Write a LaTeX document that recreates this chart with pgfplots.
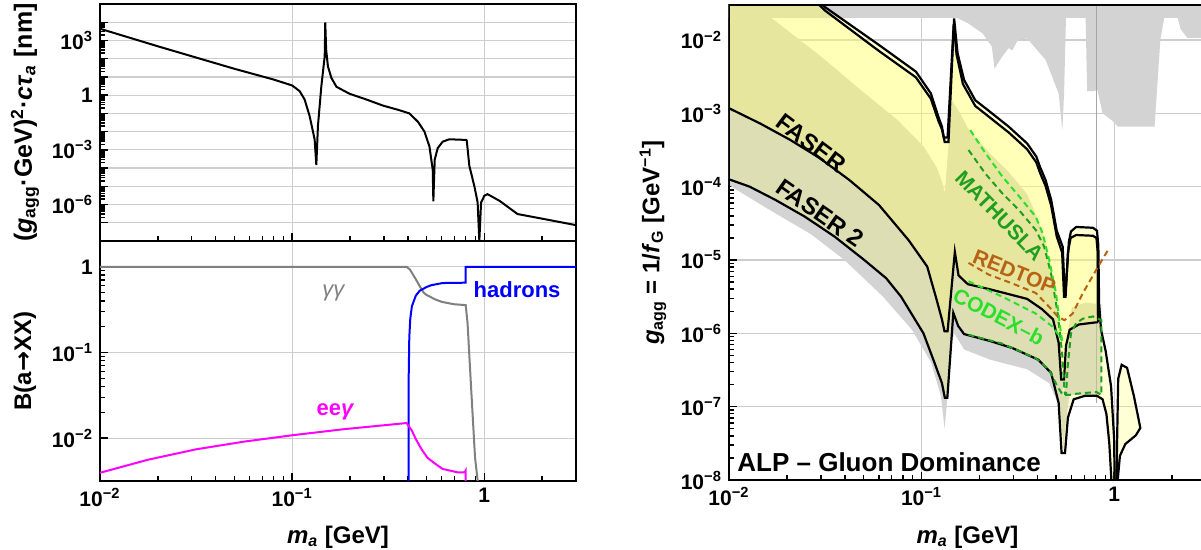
\documentclass[border=0pt]{standalone}
\usepackage{fontspec}
\setmainfont{Liberation Sans}
\newfontfamily\djv{DejaVu Sans}
\usepackage{pgfplots}
\pgfplotsset{compat=1.18}

\definecolor{gridc}{RGB}{205,205,205}
\definecolor{grayfill}{RGB}{211,211,211}
\definecolor{yel}{rgb}{1,1,0.4}
\definecolor{mgreen}{RGB}{30,160,30}
\definecolor{cgreen}{RGB}{40,225,40}
\definecolor{redtop}{RGB}{184,98,20}
\definecolor{mag}{RGB}{255,0,255}

\newcommand{\sq}[1]{10\textsuperscript{−#1}}
\newcommand{\fsz}[1]{\fontsize{#1}{#1}\selectfont}

\pgfplotsset{
  every axis/.append style={
    scale only axis,
    xmin=0.01, xmax=3,
    axis line style={line width=1.3pt},
    tick style={line width=0.7pt, black},
    tick align=inside,
    xtick pos=left, ytick pos=left,
    major tick length=4pt, minor tick length=2.5pt,
    tick label style={font=\bfseries\fsz{10.5}},
    label style={font=\bfseries\fsz{12}},
    grid=major,
    major grid style={gridc, line width=0.6pt},
    xtick={0.01,0.1,1},
    minor xtick={0.02,0.03,0.04,0.05,0.06,0.07,0.08,0.09,0.2,0.3,0.4,0.5,0.6,0.7,0.8,0.9,2,3},
  }
}

\begin{document}
\begin{tikzpicture}

% ---------------- top left: lifetime ----------------
\begin{loglogaxis}[at={(50pt,154.5pt)}, anchor=south west, width=238pt, height=118.5pt,
  ymin=1e-8, ymax=1e5,
  ytick={1e-7,1e-6,1e-5,1e-4,1e-3,1e-2,1e-1,1,10,100,1e3,1e4},
  yticklabels={,\sq{6},,,\sq{3},,,1,,,10\textsuperscript{3},},
  xticklabels={,,},
  ylabel={(\textit{g}\textsubscript{agg}·GeV)\textsuperscript{2}·\textit{cτ}\textsubscript{\textit{a}} [nm]},
  ylabel style={at={(axis description cs:-0.1576,0.5)}, anchor=center, font=\bfseries\fsz{12.5}},
]
\addplot[black, line width=1pt] coordinates {
(0.01,4400) (0.02,479) (0.05,28) (0.08,7.2) (0.1,3.4) (0.1094,1.66) (0.1161,0.58)
(0.1233,0.0708) (0.1309,0.0038) (0.1336,1.48e-4) (0.1362,0.0204) (0.1419,3.1)
(0.1477,135) (0.1487,9770) (0.1503,316) (0.1535,38) (0.16,8.9) (0.17,2.88)
(0.199,1.19) (0.243,0.58) (0.296,0.27) (0.361,0.15) (0.407,0.1) (0.451,0.035)
(0.488,0.01) (0.518,1.55e-3) (0.539,8.1e-5) (0.543,1.5e-6) (0.552,2.9e-4)
(0.572,1.23e-3) (0.607,2.8e-3) (0.657,3.8e-3) (0.803,3.5e-3) (0.81,3.3e-3)
(0.836,1.3e-4) (0.887,1.05e-5) (0.923,1.3e-6) (0.942,1e-8) (0.962,1.3e-6)
(1.0,3e-6) (1.04,3.7e-6) (1.2,1.6e-6) (1.49,3e-7) (1.93,1.8e-7) (3.0,7.4e-8)
};
\end{loglogaxis}

% ---------------- bottom left: branching ratios ----------------
\begin{loglogaxis}[at={(50pt,34.5pt)}, anchor=south west, width=238pt, height=120pt,
  ymin=0.00316, ymax=2,
  ytick={0.01,0.1,1},
  yticklabels={\sq{2},\sq{1},1},
  xticklabels={\sq{2},\sq{1},1},
  ylabel={B(a{\djv\bfseries →}XX)},
  ylabel style={at={(axis description cs:-0.1576,0.5)}, anchor=center},
  xlabel={\textit{m}\textsubscript{\textit{a}} [GeV]},
  xlabel style={at={(axis description cs:0.5,-0.233)}, anchor=center},
]
\addplot[gray, line width=1pt] coordinates {
(0.01,1) (0.394,1) (0.41,0.93) (0.42,0.85) (0.44,0.716) (0.46,0.6) (0.483,0.5)
(0.5,0.47) (0.554,0.417) (0.6,0.39) (0.666,0.372) (0.7,0.365) (0.8,0.357)
(0.818,0.221) (0.855,0.0363) (0.895,0.0059) (0.935,0.0025)
};
\addplot[blue, line width=1pt] coordinates {
(0.403,0.002) (0.404,0.05) (0.407,0.15) (0.412,0.25) (0.42,0.347) (0.44,0.46)
(0.461,0.525) (0.5,0.58) (0.53,0.61) (0.607,0.646) (0.8,0.652) (0.8,1) (3.1,1)
};
\addplot[mag, line width=1pt] coordinates {
(0.01,3.94e-3) (0.0178,5.6e-3) (0.0316,7.4e-3) (0.0562,9.1e-3) (0.1,0.0108)
(0.185,0.0127) (0.394,0.0150) (0.42,0.0122) (0.44,0.00977) (0.47,0.0075)
(0.506,0.0059) (0.55,0.0051) (0.607,0.00437) (0.73,0.00398) (0.79,0.0040)
(0.8,0.0042) (0.8,0.002)
};
\node[text=gray, font=\itshape\fsz{11}] at (axis cs:0.164,0.5) {γγ};
\node[text=mag, font=\bfseries\fsz{11}] at (axis cs:0.168,0.0203) {ee\textit{γ}};
\node[text=blue, font=\bfseries\fsz{11}] at (axis cs:1.48,0.546) {hadrons};
\end{loglogaxis}

% ---------------- right: sensitivity ----------------
\begin{loglogaxis}[at={(364.5pt,35pt)}, anchor=south west, width=238.5pt, height=237.5pt,
  ymin=1e-8, ymax=0.03,
  ytick={1e-8,1e-7,1e-6,1e-5,1e-4,1e-3,1e-2},
  yticklabels={\sq{8},\sq{7},\sq{6},\sq{5},\sq{4},\sq{3},\sq{2}},
  xticklabels={\sq{2},\sq{1},1},
  minor ytick={2e-8,3e-8,4e-8,5e-8,6e-8,7e-8,8e-8,9e-8,
               2e-7,3e-7,4e-7,5e-7,6e-7,7e-7,8e-7,9e-7,
               2e-6,3e-6,4e-6,5e-6,6e-6,7e-6,8e-6,9e-6,
               2e-5,3e-5,4e-5,5e-5,6e-5,7e-5,8e-5,9e-5,
               2e-4,3e-4,4e-4,5e-4,6e-4,7e-4,8e-4,9e-4,
               2e-3,3e-3,4e-3,5e-3,6e-3,7e-3,8e-3,9e-3,2e-2,3e-2},
  ylabel={\textit{g}\textsubscript{agg} = 1/\textit{f}\textsubscript{G} [GeV\textsuperscript{−1}]},
  ylabel style={at={(axis description cs:-0.1593,0.5)}, anchor=center},
  xlabel={\textit{m}\textsubscript{\textit{a}} [GeV]},
  xlabel style={at={(axis description cs:0.5,-0.12)}, anchor=center},
]
% existing constraints: top band
\addplot[fill=grayfill, draw=none] coordinates {
(0.0089,0.05) (0.0089,0.02) (0.1524,0.02) (0.1738,0.017) (0.2075,0.0123) (0.2317,0.00813)
(0.2393,0.00407) (0.2588,0.00562) (0.2831,0.00776) (0.2958,0.00724) (0.3162,0.01)
(0.3532,0.0105) (0.4406,0.00537) (0.5152,0.00186) (0.5383,5.89e-4) (0.5495,0.00186)
(0.5623,0.02) (0.7112,0.02) (0.7244,0.002) (0.7834,0.002) (0.8185,0.00209) (0.871,0.001)
(0.977,7.94e-4) (1.047,6.6e-4) (1.622,6.6e-4) (1.738,0.01) (1.82,0.02) (2.138,0.02)
(2.213,0.0141) (2.399,0.0107) (3.2,0.0107) (3.2,0.05)
} -- cycle;
% existing constraints: main region
\addplot[fill=grayfill, draw=none] coordinates {
(0.0089,0.05) (0.0166,0.05) (0.0166,0.02) (0.0309,0.00562) (0.0482,0.00209) (0.075,8.13e-4)
(0.1023,3.55e-4) (0.1194,1.86e-4) (0.1276,1.175e-4) (0.1321,8.32e-5) (0.1439,1.51e-3)
(0.1585,1e-3) (0.1738,6.31e-4) (0.227,2.82e-4) (0.2831,1.585e-4) (0.3532,7.94e-5)
(0.4036,3.55e-5) (0.4406,1.78e-5) (0.471,7.94e-6) (0.5012,3.16e-6) (0.5248,1e-6)
(0.537,3.16e-7) (0.547,1.26e-7) (0.5623,3.16e-7) (0.5754,1e-6) (0.6026,2.24e-6)
(0.7079,2.63e-6) (0.8222,2.51e-6) (0.859,2.51e-6) (0.859,1.445e-7) (0.5861,1.445e-7)
(0.5559,5.01e-8) (0.547,2.51e-8) (0.526,9.12e-8) (0.4603,2.09e-7) (0.3532,3.24e-7)
(0.227,4.37e-7) (0.1663,6.03e-7) (0.1479,1e-6) (0.1413,6.31e-7) (0.1349,1e-7)
(0.1318,5.01e-8) (0.1259,1.41e-7) (0.1122,3.98e-7) (0.0891,1.12e-6) (0.0631,3.16e-6)
(0.0398,1e-5) (0.0267,2.24e-5) (0.01585,5.01e-5) (0.01,1.05e-4) (0.0089,1.26e-4)
} -- cycle;
\addplot[gray!70, line width=0.8pt] coordinates {(0.81,0.03) (0.81,1.12e-7)};
% FASER 2 region
\addplot[fill=yel, fill opacity=0.27, draw=none] coordinates {
(0.0089,0.05) (0.0229,0.05) (0.0303,0.0302) (0.0601,8.55e-3) (0.0935,3.70e-3) (0.1117,1.875e-3)
(0.1222,9.02e-4) (0.1276,6.6e-4) (0.1318,4.07e-4) (0.138,4.07e-4) (0.1476,0.0197)
(0.1538,6.61e-3) (0.1663,2.85e-3) (0.19,1.51e-3) (0.227,1.047e-3) (0.2831,6.6e-4)
(0.3532,3.89e-4) (0.3945,2.57e-4) (0.4121,1.86e-4) (0.4406,1.23e-4) (0.471,6.61e-5)
(0.5035,2.51e-5) (0.5408,1.51e-5) (0.5521,4.37e-6) (0.5623,4.37e-6) (0.5821,1.78e-5)
(0.597,2.45e-5) (0.6353,2.82e-5) (0.7762,2.75e-5) (0.8147,2.51e-5) (0.8279,1.585e-5)
(0.8356,2.51e-6) (0.8551,1.12e-6) (0.9036,5.75e-7) (0.9638,1.905e-7) (1.0,3.63e-8)
(1.007,7.94e-9) (0.9727,7.94e-9) (0.944,3.16e-8) (0.912,7.94e-8) (0.871,1.26e-7)
(0.8128,1.41e-7) (0.7079,1.41e-7) (0.6166,1.26e-7) (0.5754,7.08e-8) (0.5559,2.34e-8)
(0.5333,2.34e-8) (0.5152,1.12e-7) (0.471,2.88e-7) (0.4036,4.37e-7) (0.2958,6.31e-7)
(0.227,7.85e-7) (0.1663,9.77e-7) (0.1549,1.26e-6) (0.1462,1.905e-6) (0.1361,1.32e-7)
(0.1321,1.32e-7) (0.1276,2.09e-7) (0.1167,3.98e-7) (0.1023,1e-6) (0.0783,3.16e-6)
(0.0656,5.62e-6) (0.0504,1e-5) (0.0353,2.09e-5) (0.0248,3.89e-5) (0.0174,6.61e-5)
(0.0128,1e-4) (0.01,1.26e-4) (0.0089,1.35e-4)
} -- cycle;
\addplot[fill=yel, fill opacity=0.27, draw=none] coordinates {
(1.026,7.94e-9) (1.05,2.4e-7) (1.094,3.72e-7) (1.167,3.39e-7) (1.268,1.38e-7)
(1.368,5.13e-8) (1.297,4.07e-8) (1.143,3.09e-8) (1.072,2.14e-8) (1.035,7.94e-9)
} -- cycle;
% FASER region
\addplot[fill=yel, fill opacity=0.27, draw=none] coordinates {
(0.0089,0.05) (0.024,0.05) (0.0316,0.0251) (0.0601,7.08e-3) (0.0935,3.09e-3) (0.1117,1.585e-3)
(0.1222,7.94e-4) (0.1276,6.03e-4) (0.1303,4.68e-4) (0.1365,4.68e-4) (0.1469,0.0166)
(0.152,6.31e-3) (0.164,2.51e-3) (0.19,1.26e-3) (0.227,8.71e-4) (0.2831,5.5e-4)
(0.3532,3.24e-4) (0.3945,2.14e-4) (0.4121,1.55e-4) (0.4406,1.02e-4) (0.471,5.5e-5)
(0.5035,2.09e-5) (0.537,1.26e-5) (0.5495,3.16e-6) (0.5598,3.16e-6) (0.5754,1.26e-5)
(0.5943,2.0e-5) (0.6353,2.19e-5) (0.7762,2.14e-5) (0.8091,2.0e-5) (0.8222,1.26e-5)
(0.826,1.41e-6) (0.8017,1.41e-6) (0.6561,1.32e-6) (0.5875,1.12e-6) (0.5623,6.76e-7)
(0.5495,2.34e-7) (0.5309,2.34e-7) (0.5152,7.41e-7) (0.4819,1.55e-6) (0.4217,2.14e-6)
(0.3532,2.95e-6) (0.227,3.98e-6) (0.1738,4.68e-6) (0.1556,6.17e-6) (0.1489,1.29e-5)
(0.1365,1.07e-6) (0.1315,1.07e-6) (0.1276,1.55e-6) (0.1194,2.95e-6) (0.107,8.13e-6)
(0.0857,1.86e-5) (0.0601,5.62e-5) (0.0422,1.23e-4) (0.0296,2.45e-4) (0.0207,4.37e-4)
(0.01455,7.24e-4) (0.01,1.175e-3) (0.0089,1.3e-3)
} -- cycle;
% black boundaries
\addplot[black, line width=1.1pt] coordinates {
(0.0229,0.05) (0.0303,0.0302) (0.0601,8.55e-3) (0.0935,3.70e-3) (0.1117,1.875e-3)
(0.1222,9.02e-4) (0.1276,6.6e-4) (0.1318,4.07e-4) (0.138,4.07e-4) (0.1476,0.0197)
(0.1538,6.61e-3) (0.1663,2.85e-3) (0.19,1.51e-3) (0.227,1.047e-3) (0.2831,6.6e-4)
(0.3532,3.89e-4) (0.3945,2.57e-4) (0.4121,1.86e-4) (0.4406,1.23e-4) (0.471,6.61e-5)
(0.5035,2.51e-5) (0.5408,1.51e-5) (0.5521,4.37e-6) (0.5623,4.37e-6) (0.5821,1.78e-5)
(0.597,2.45e-5) (0.6353,2.82e-5) (0.7762,2.75e-5) (0.8147,2.51e-5) (0.8279,1.585e-5)
(0.8356,2.51e-6) (0.8551,1.12e-6) (0.9036,5.75e-7) (0.9638,1.905e-7) (1.0,3.63e-8)
(1.007,7.94e-9)
};
\addplot[black, line width=1.1pt] coordinates {
(0.024,0.05) (0.0316,0.0251) (0.0601,7.08e-3) (0.0935,3.09e-3) (0.1117,1.585e-3)
(0.1222,7.94e-4) (0.1276,6.03e-4) (0.1303,4.68e-4) (0.1365,4.68e-4) (0.1469,0.0166)
(0.152,6.31e-3) (0.164,2.51e-3) (0.19,1.26e-3) (0.227,8.71e-4) (0.2831,5.5e-4)
(0.3532,3.24e-4) (0.3945,2.14e-4) (0.4121,1.55e-4) (0.4406,1.02e-4) (0.471,5.5e-5)
(0.5035,2.09e-5) (0.537,1.26e-5) (0.5495,3.16e-6) (0.5598,3.16e-6) (0.5754,1.26e-5)
(0.5943,2.0e-5) (0.6353,2.19e-5) (0.7762,2.14e-5) (0.8091,2.0e-5) (0.8222,1.26e-5)
(0.826,1.41e-6)
};
\addplot[black, line width=1.1pt] coordinates {
(0.0089,1.3e-3) (0.01,1.175e-3) (0.01455,7.24e-4) (0.0207,4.37e-4) (0.0296,2.45e-4)
(0.0422,1.23e-4) (0.0601,5.62e-5) (0.0857,1.86e-5) (0.107,8.13e-6) (0.1194,2.95e-6)
(0.1276,1.55e-6) (0.1315,1.07e-6) (0.1365,1.07e-6) (0.1489,1.29e-5) (0.1556,6.17e-6)
(0.1738,4.68e-6) (0.227,3.98e-6) (0.3532,2.95e-6) (0.4217,2.14e-6) (0.4819,1.55e-6)
(0.5152,7.41e-7) (0.5309,2.34e-7) (0.5495,2.34e-7) (0.5623,6.76e-7) (0.5875,1.12e-6)
(0.6561,1.32e-6) (0.8017,1.41e-6) (0.826,1.41e-6)
};
\addplot[black, line width=1.1pt] coordinates {
(0.0089,1.35e-4) (0.01,1.26e-4) (0.0128,1e-4) (0.0174,6.61e-5) (0.0248,3.89e-5)
(0.0353,2.09e-5) (0.0504,1e-5) (0.0656,5.62e-6) (0.0783,3.16e-6) (0.1023,1e-6)
(0.1167,3.98e-7) (0.1276,2.09e-7) (0.1321,1.32e-7) (0.1361,1.32e-7) (0.1462,1.905e-6)
(0.1549,1.26e-6) (0.1663,9.77e-7) (0.227,7.85e-7) (0.2958,6.31e-7) (0.4036,4.37e-7)
(0.471,2.88e-7) (0.5152,1.12e-7) (0.5333,2.34e-8) (0.5559,2.34e-8) (0.5754,7.08e-8)
(0.6166,1.26e-7) (0.7079,1.41e-7) (0.8128,1.41e-7) (0.871,1.26e-7) (0.912,7.94e-8)
(0.944,3.16e-8) (0.9727,7.94e-9)
};
\addplot[black, line width=1.1pt] coordinates {
(1.026,7.94e-9) (1.05,2.4e-7) (1.094,3.72e-7) (1.167,3.39e-7) (1.268,1.38e-7)
(1.368,5.13e-8) (1.297,4.07e-8) (1.143,3.09e-8) (1.072,2.14e-8) (1.035,7.94e-9)
};
% projections (dashed)
\addplot[mgreen, line width=1pt, dash pattern=on 3pt off 2pt] coordinates {
(0.1754,3.16e-4) (0.2143,1.51e-4) (0.2624,8.13e-5) (0.3206,4.79e-5) (0.3917,2.57e-5)
(0.4335,1.51e-5) (0.4699,6.61e-6) (0.5093,1.86e-6) (0.537,5.37e-7) (0.5521,1.70e-7)
(0.5559,1.445e-7)
};
\addplot[mgreen, line width=1pt, dash pattern=on 3pt off 2pt] coordinates {
(0.1754,9.55e-7) (0.2624,7.24e-7) (0.3917,4.57e-7) (0.4603,3.16e-7) (0.5093,1.86e-7)
(0.5408,1.445e-7) (0.5861,1.445e-7) (0.6353,1.5e-7) (0.8091,1.585e-7) (0.859,1.445e-7)
(0.859,1.51e-6) (0.7762,1.70e-6) (0.6887,1.585e-6) (0.6353,1.38e-6) (0.597,1e-6)
(0.5741,3.55e-7) (0.5623,1.445e-7)
};
\addplot[cgreen, line width=1pt, dash pattern=on 3pt off 2pt] coordinates {
(0.179,5.89e-4) (0.2143,2.88e-4) (0.2624,1.38e-4) (0.3206,7.41e-5) (0.3917,3.89e-5)
(0.4246,2.34e-5) (0.4603,1e-5) (0.4989,3.55e-6) (0.5297,1e-6) (0.537,7.94e-7)
};
\addplot[cgreen, line width=1pt, dash pattern=on 3pt off 2pt] coordinates {
(0.1754,5.13e-6) (0.2624,3.16e-6) (0.3917,1.86e-6) (0.4797,1.23e-6) (0.52,9.12e-7)
(0.537,7.94e-7)
};
\addplot[redtop, line width=1pt, dash pattern=on 3pt off 2pt] coordinates {
(0.1754,9.12e-6) (0.2234,6.31e-6) (0.2958,4.79e-6) (0.3917,3.55e-6) (0.4603,2.29e-6)
(0.5093,1.70e-6) (0.5521,1.51e-6) (0.6095,1.86e-6) (0.6887,3.55e-6) (0.8091,7.41e-6)
(0.931,1.38e-5)
};
% labels
\node[rotate=-37, font=\bfseries\fsz{12}] at (axis cs:0.0267,3.9e-4) {FASER};
\node[rotate=-35, font=\bfseries\fsz{12}] at (axis cs:0.0296,4.37e-5) {FASER 2};
\node[rotate=-46, text=mgreen, font=\bfseries\fsz{10.5}] at (axis cs:0.254,3.98e-5) {MATHUSLA};
\node[rotate=-22, text=redtop, font=\bfseries\fsz{10.5}] at (axis cs:0.304,6.92e-6) {REDTOP};
\node[rotate=-27.5, text=cgreen, font=\bfseries\fsz{10.5}] at (axis cs:0.252,1.70e-6) {CODEX–b};
\node[anchor=base west, font=\bfseries\fsz{13}, inner sep=0pt] at ([xshift=4pt,yshift=4pt]rel axis cs:0,0) {ALP – Gluon Dominance};
\draw[line width=1.3pt] (rel axis cs:0,0) rectangle (rel axis cs:1,1);
\end{loglogaxis}

\pgfresetboundingbox
\path[use as bounding box] (0,0) rectangle (600.5pt,275pt);
\end{tikzpicture}
\end{document}
